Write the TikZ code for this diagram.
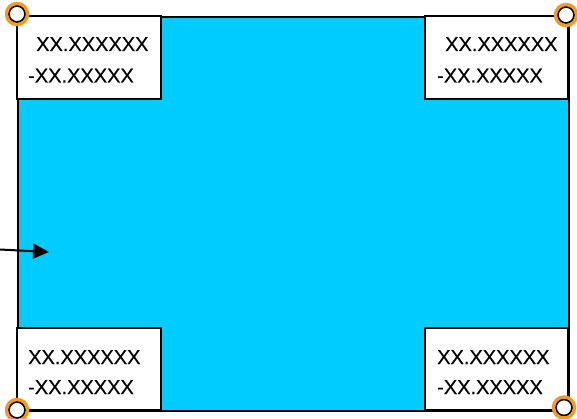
\documentclass[tikz,border=0pt]{standalone}
\usepackage{fontspec}
\setmainfont[FakeBold=0.2]{Liberation Sans}
\usetikzlibrary{arrows.meta}
\definecolor{skyfill}{HTML}{00CCFF}
\definecolor{ringorange}{HTML}{F39A1B}
\begin{document}
\begin{tikzpicture}[x=1pt,y=-1pt,
  panel/.style={draw=black,line width=2pt,fill=white,inner sep=0pt,outer sep=0pt},
  coord/.style={anchor=base west,inner sep=0pt,font=\fontsize{20}{24}\selectfont},
  ring/.style={circle,draw=ringorange,line width=3.5pt,fill=black,minimum size=21pt,inner sep=0pt},
  ringin/.style={circle,draw=black,line width=1.2pt,fill=white,minimum size=15.5pt,inner sep=0pt},
  pointer/.style={line width=2pt,-{Triangle[length=16pt,width=15pt]}}]
\useasboundingbox (0,0) rectangle (577,419);
\node[draw=black,line width=2pt,fill=skyfill,minimum width=551pt,minimum height=394pt,inner sep=0pt,anchor=north west] (area) at (17,16) {};
\node[panel,minimum width=144pt,minimum height=83pt,anchor=north west] (tl) at (17,16) {};
\node[panel,minimum width=143pt,minimum height=83pt,anchor=north west] (tr) at (425,16) {};
\node[panel,minimum width=144pt,minimum height=82pt,anchor=north west] (bl) at (17,328) {};
\node[panel,minimum width=143pt,minimum height=82pt,anchor=north west] (br) at (425,328) {};
\node[coord] (tl1) at (36,51) {XX.XXXXXX};
\node[coord] (tl2) at (28,82.5) {-XX.XXXXX};
\node[coord] (tr1) at (445,51) {XX.XXXXXX};
\node[coord] (tr2) at (437,82.5) {-XX.XXXXX};
\node[coord] (bl1) at (28,364) {XX.XXXXXX};
\node[coord] (bl2) at (28,394) {-XX.XXXXX};
\node[coord] (br1) at (437,364) {XX.XXXXXX};
\node[coord] (br2) at (437,394) {-XX.XXXXX};
\foreach \n/\p in {c1/{(17,14)},c2/{(566,15)},c3/{(17,410)},c4/{(564,407.5)}}{
  \node[ring] (\n) at \p {};
  \node[ringin] (\n i) at \p {};
}
\coordinate (from) at (0,249.5);
\coordinate (tip) at (49,252);
\draw[pointer] (from) -- (tip);
\end{tikzpicture}
\end{document}
